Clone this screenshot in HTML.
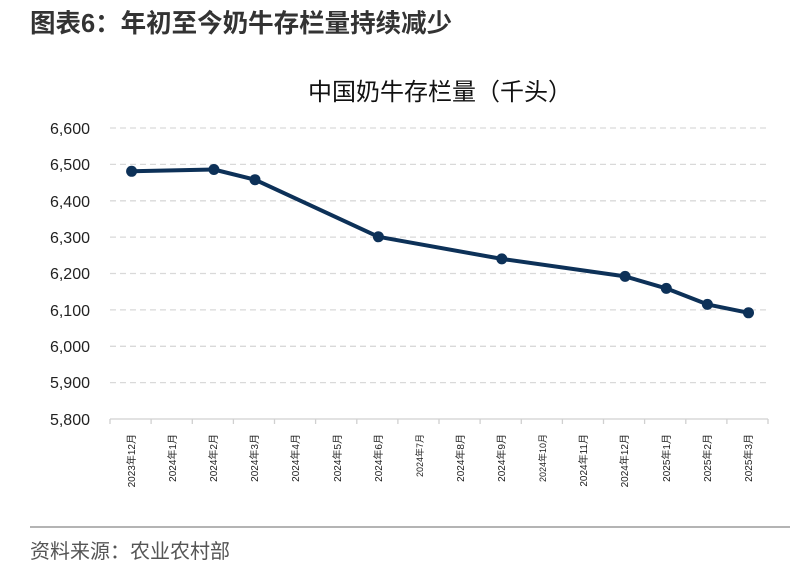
<!DOCTYPE html>
<html><head><meta charset="utf-8"><style>
html,body{margin:0;padding:0;background:#fff;width:800px;height:571px;overflow:hidden}
svg{display:block}
</style></head><body>
<svg width="800" height="571" viewBox="0 0 800 571" xmlns="http://www.w3.org/2000/svg" font-family="Liberation Sans, Noto Sans CJK SC, sans-serif">
<text x="30" y="32" font-size="25.5" font-weight="bold" fill="#333" font-family="Liberation Sans, Noto Sans CJK SC, sans-serif">图表6：年初至今奶牛存栏量持续减少</text>
<text x="440" y="100" font-size="24" fill="#111" text-anchor="middle">中国奶牛存栏量（千头）</text>
<g stroke="#d9d9d9" stroke-width="1.3" stroke-dasharray="6,4">
<line x1="110" x2="768" y1="128" y2="128"/>
<line x1="110" x2="768" y1="164.4" y2="164.4"/>
<line x1="110" x2="768" y1="200.8" y2="200.8"/>
<line x1="110" x2="768" y1="237.1" y2="237.1"/>
<line x1="110" x2="768" y1="273.5" y2="273.5"/>
<line x1="110" x2="768" y1="309.9" y2="309.9"/>
<line x1="110" x2="768" y1="346.3" y2="346.3"/>
<line x1="110" x2="768" y1="382.6" y2="382.6"/>
</g>
<line x1="110" x2="768" y1="419" y2="419" stroke="#d0d0d0" stroke-width="1.3"/>
<g stroke="#d0d0d0" stroke-width="1.3">
<line x1="110" x2="110" y1="419" y2="424"/><line x1="151.1" x2="151.1" y1="419" y2="424"/><line x1="192.3" x2="192.3" y1="419" y2="424"/><line x1="233.4" x2="233.4" y1="419" y2="424"/><line x1="274.5" x2="274.5" y1="419" y2="424"/><line x1="315.6" x2="315.6" y1="419" y2="424"/><line x1="356.8" x2="356.8" y1="419" y2="424"/><line x1="397.9" x2="397.9" y1="419" y2="424"/><line x1="439" x2="439" y1="419" y2="424"/><line x1="480.1" x2="480.1" y1="419" y2="424"/><line x1="521.3" x2="521.3" y1="419" y2="424"/><line x1="562.4" x2="562.4" y1="419" y2="424"/><line x1="603.5" x2="603.5" y1="419" y2="424"/><line x1="644.6" x2="644.6" y1="419" y2="424"/><line x1="685.8" x2="685.8" y1="419" y2="424"/><line x1="726.9" x2="726.9" y1="419" y2="424"/><line x1="768" x2="768" y1="419" y2="424"/>
</g>
<g font-size="16" fill="#222" text-anchor="end">
<text x="90" y="134">6,600</text><text x="90" y="170">6,500</text><text x="90" y="207">6,400</text><text x="90" y="243">6,300</text><text x="90" y="279">6,200</text><text x="90" y="316">6,100</text><text x="90" y="352">6,000</text><text x="90" y="388">5,900</text><text x="90" y="425">5,800</text>
</g>
<g font-size="10" fill="#222" text-anchor="end">
<text transform="translate(135,434) rotate(-90)">2023年12月</text>
<text transform="translate(176,434) rotate(-90)">2024年1月</text>
<text transform="translate(217,434) rotate(-90)">2024年2月</text>
<text transform="translate(258,434) rotate(-90)">2024年3月</text>
<text transform="translate(299,434) rotate(-90)">2024年4月</text>
<text transform="translate(341,434) rotate(-90)">2024年5月</text>
<text transform="translate(382,434) rotate(-90)">2024年6月</text>
<text transform="translate(423,434) rotate(-90)" font-size="9">2024年7月</text>
<text transform="translate(464,434) rotate(-90)">2024年8月</text>
<text transform="translate(505,434) rotate(-90)">2024年9月</text>
<text transform="translate(546,434) rotate(-90)" font-size="9">2024年10月</text>
<text transform="translate(587,434) rotate(-90)">2024年11月</text>
<text transform="translate(628,434) rotate(-90)">2024年12月</text>
<text transform="translate(670,434) rotate(-90)">2025年1月</text>
<text transform="translate(711,434) rotate(-90)">2025年2月</text>
<text transform="translate(752,434) rotate(-90)">2025年3月</text>
</g>
<polyline fill="none" stroke="#0d3158" stroke-width="4" stroke-linejoin="round" points="131.6,171.3 213.9,169.5 255,179.7 378.4,236.8 501.8,258.9 625.1,276.4 666.3,288.4 707.4,304.4 748.5,312.8"/>
<g fill="#0d3158">
<circle cx="131.6" cy="171.3" r="5.5"/><circle cx="213.9" cy="169.5" r="5.5"/><circle cx="255" cy="179.7" r="5.5"/><circle cx="378.4" cy="236.8" r="5.5"/><circle cx="501.8" cy="258.9" r="5.5"/><circle cx="625.1" cy="276.4" r="5.5"/><circle cx="666.3" cy="288.4" r="5.5"/><circle cx="707.4" cy="304.4" r="5.5"/><circle cx="748.5" cy="312.8" r="5.5"/>
</g>
<line x1="30" x2="790" y1="527" y2="527" stroke="#888" stroke-width="1.2"/>
<text x="30" y="558" font-size="20" fill="#555">资料来源：农业农村部</text>
</svg>
</body></html>
